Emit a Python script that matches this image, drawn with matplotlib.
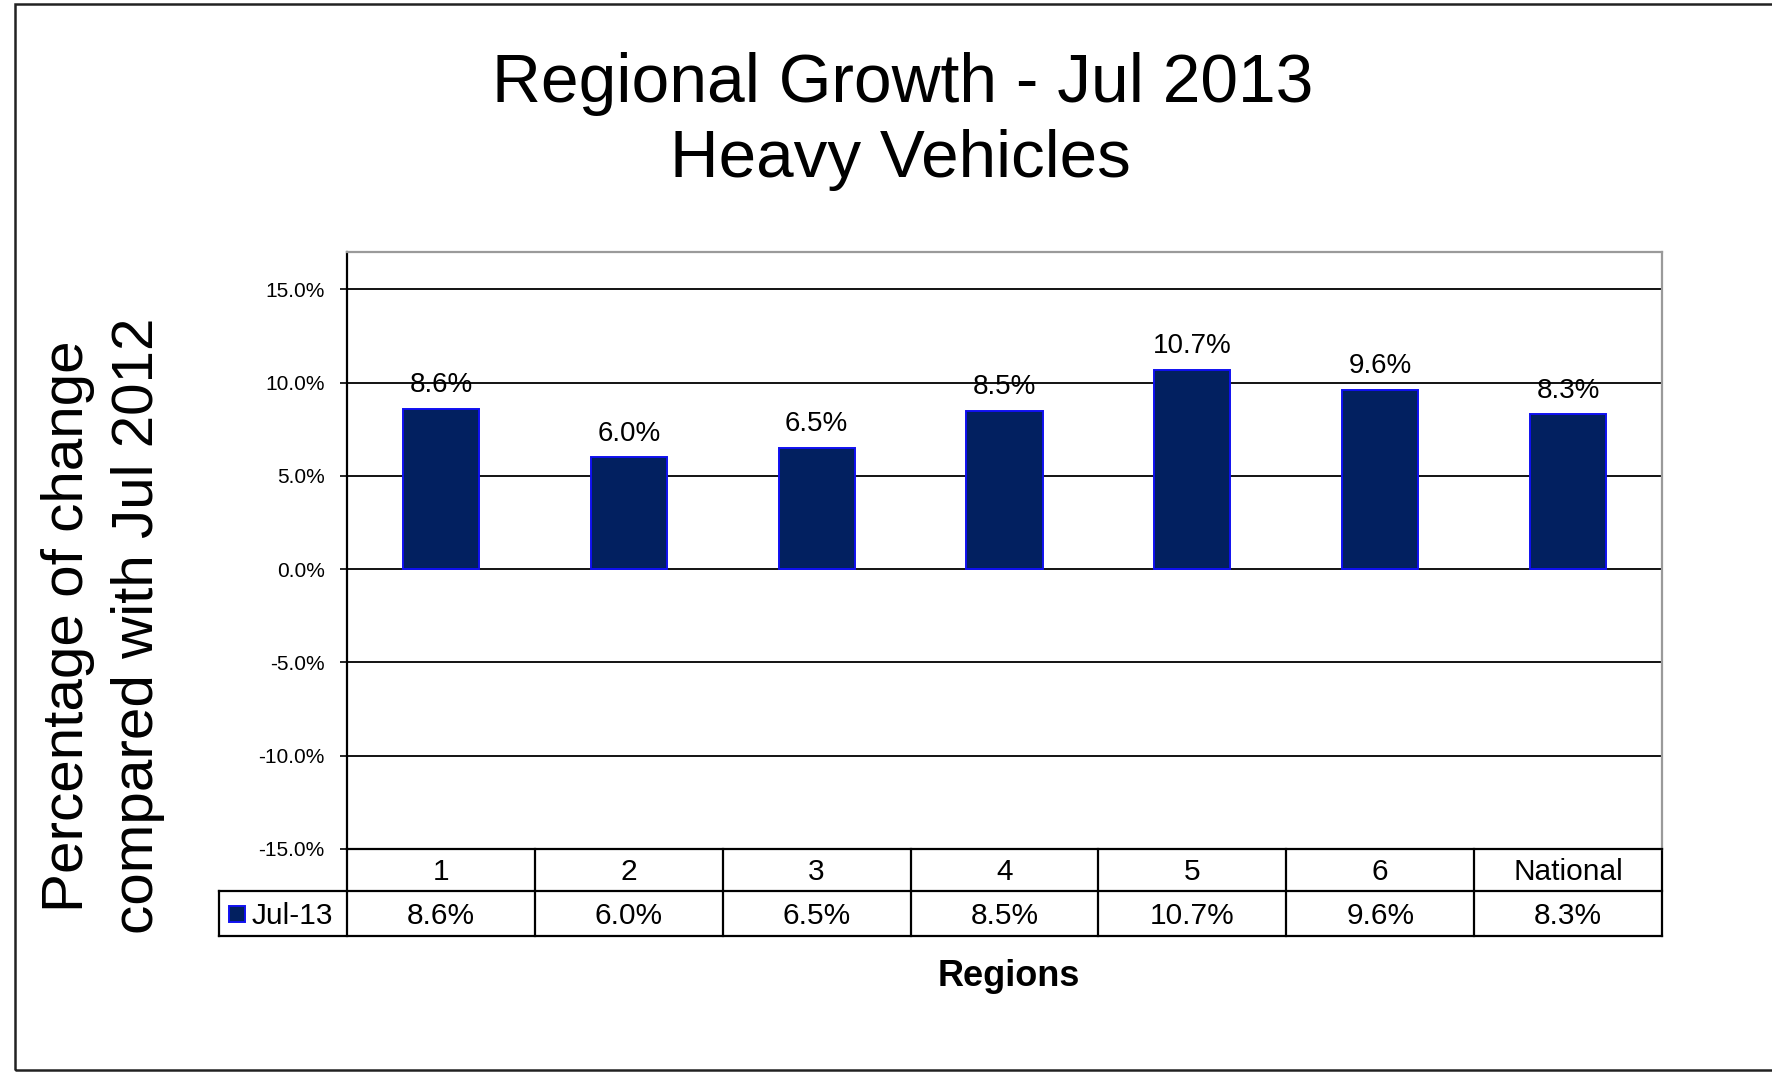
import matplotlib
matplotlib.use("Agg")
import matplotlib.pyplot as plt
from matplotlib.patches import Rectangle
import numpy as np

# ---- data ----
categories = ["1", "2", "3", "4", "5", "6", "National"]
values = [8.6, 6.0, 6.5, 8.5, 10.7, 9.6, 8.3]
series_name = "Jul-13"
yticks = [-15, -10, -5, 0, 5, 10, 15]
title_line1 = "Regional Growth - Jul 2013"
title_line2 = "Heavy Vehicles"
ylabel_line1 = "Percentage of change"
ylabel_line2 = "compared with Jul 2012"
xlabel = "Regions"

plt.rcParams['font.family'] = ['Liberation Sans', 'DejaVu Sans']

W, H = 1772, 1073
fig = plt.figure(figsize=(W / 100, H / 100), dpi=100)
fig.patch.set_facecolor("white")

# axes placement (pixels -> figure fractions)
ax_l, ax_r, ax_t, ax_b = 347, 1662, 252, 849
ax = fig.add_axes([ax_l / W, 1 - ax_b / H, (ax_r - ax_l) / W, (ax_b - ax_t) / H])

x = np.arange(len(categories))
bar_fill = "#022060"
bar_edge = "#1010F0"
ax.bar(x, values, width=0.405, color=bar_fill, edgecolor=bar_edge, linewidth=1.4, zorder=3)

ax.set_xlim(-0.5, len(categories) - 0.5)
ax.set_ylim(-15, 17)
ax.set_yticks(yticks)
ax.set_yticklabels([f"{v:.1f}%" for v in yticks], fontsize=15)
ax.tick_params(axis='y', direction='out', length=5, width=1.2, pad=11, colors='black')
ax.set_xticks([])
ax.yaxis.grid(True, color='black', linewidth=1.3, zorder=1)
ax.set_axisbelow(True)

ax.spines['left'].set_color('black')
ax.spines['left'].set_linewidth(1.6)
ax.spines['bottom'].set_color('black')
ax.spines['bottom'].set_linewidth(1.6)
ax.spines['top'].set_color('#9a9a9a')
ax.spines['top'].set_linewidth(1.6)
ax.spines['right'].set_color('#9a9a9a')
ax.spines['right'].set_linewidth(1.6)

# data labels
for xi, v in zip(x, values):
    ax.annotate(f"{v:.1f}%", xy=(xi, v), xytext=(0, 12), textcoords='offset points',
                ha='center', va='baseline', fontsize=20, color='black', zorder=4)

# ---- data table under the axes ----
hdr_bot = -(891 - ax_b) / (ax_b - ax_t)
row_bot = -(936 - ax_b) / (ax_b - ax_t)
leg_left = (219 - ax_l) / (ax_r - ax_l)
xt = ax.get_xaxis_transform()
lw_t = 1.6
# vertical category boundaries
for b in np.arange(len(categories) + 1) - 0.5:
    ax.plot([b, b], [row_bot, 0], transform=xt, color='black', lw=lw_t, clip_on=False,
            solid_capstyle='projecting')
# horizontal lines
ax.plot([leg_left, 1], [hdr_bot, hdr_bot], transform=ax.transAxes, color='black', lw=lw_t,
        clip_on=False, solid_capstyle='projecting')
ax.plot([leg_left, 1], [row_bot, row_bot], transform=ax.transAxes, color='black', lw=lw_t,
        clip_on=False, solid_capstyle='projecting')
ax.plot([leg_left, leg_left], [row_bot, hdr_bot], transform=ax.transAxes, color='black',
        lw=lw_t, clip_on=False, solid_capstyle='projecting')

hdr_mid = hdr_bot / 2
row_mid = (hdr_bot + row_bot) / 2
for xi, c, v in zip(x, categories, values):
    ax.text(xi, hdr_mid - 0.004, c, transform=xt, ha='center', va='center', fontsize=21.5)
    ax.text(xi, row_mid - 0.004, f"{v:.1f}%", transform=xt, ha='center', va='center', fontsize=21.5)

# legend key in table
key_l = (229 - ax_l) / (ax_r - ax_l)
key_w = 16 / (ax_r - ax_l)
key_h = 16 / (ax_b - ax_t)
ax.add_patch(Rectangle((key_l, row_mid - key_h / 2), key_w, key_h, transform=ax.transAxes,
                       facecolor=bar_fill, edgecolor='#1010F0', lw=1.4, clip_on=False))
ax.text((252 - ax_l) / (ax_r - ax_l), row_mid - 0.004, series_name, transform=ax.transAxes,
        ha='left', va='center', fontsize=21.5)

# ---- titles and labels ----
fig.text(903 / W, 1 - 102 / H, title_line1, ha='center', va='baseline', fontsize=48.8)
fig.text(900 / W, 1 - 177 / H, title_line2, ha='center', va='baseline', fontsize=48.5)
fig.text(83 / W, 1 - 626 / H, ylabel_line1, rotation=90, rotation_mode='anchor',
         ha='center', va='baseline', fontsize=42)
fig.text(153 / W, 1 - 626 / H, ylabel_line2, rotation=90, rotation_mode='anchor',
         ha='center', va='baseline', fontsize=42)
fig.text(1009 / W, 1 - 976 / H, xlabel, ha='center', va='center', fontsize=26, fontweight='bold')

# outer chart frame
fig.patches.append(Rectangle((15 / W, 1 - 1070 / H), 2.0, (1070 - 4) / H,
                             transform=fig.transFigure, fill=False, edgecolor='#222222',
                             lw=1.8))

fig.savefig("out.png", dpi=100)
